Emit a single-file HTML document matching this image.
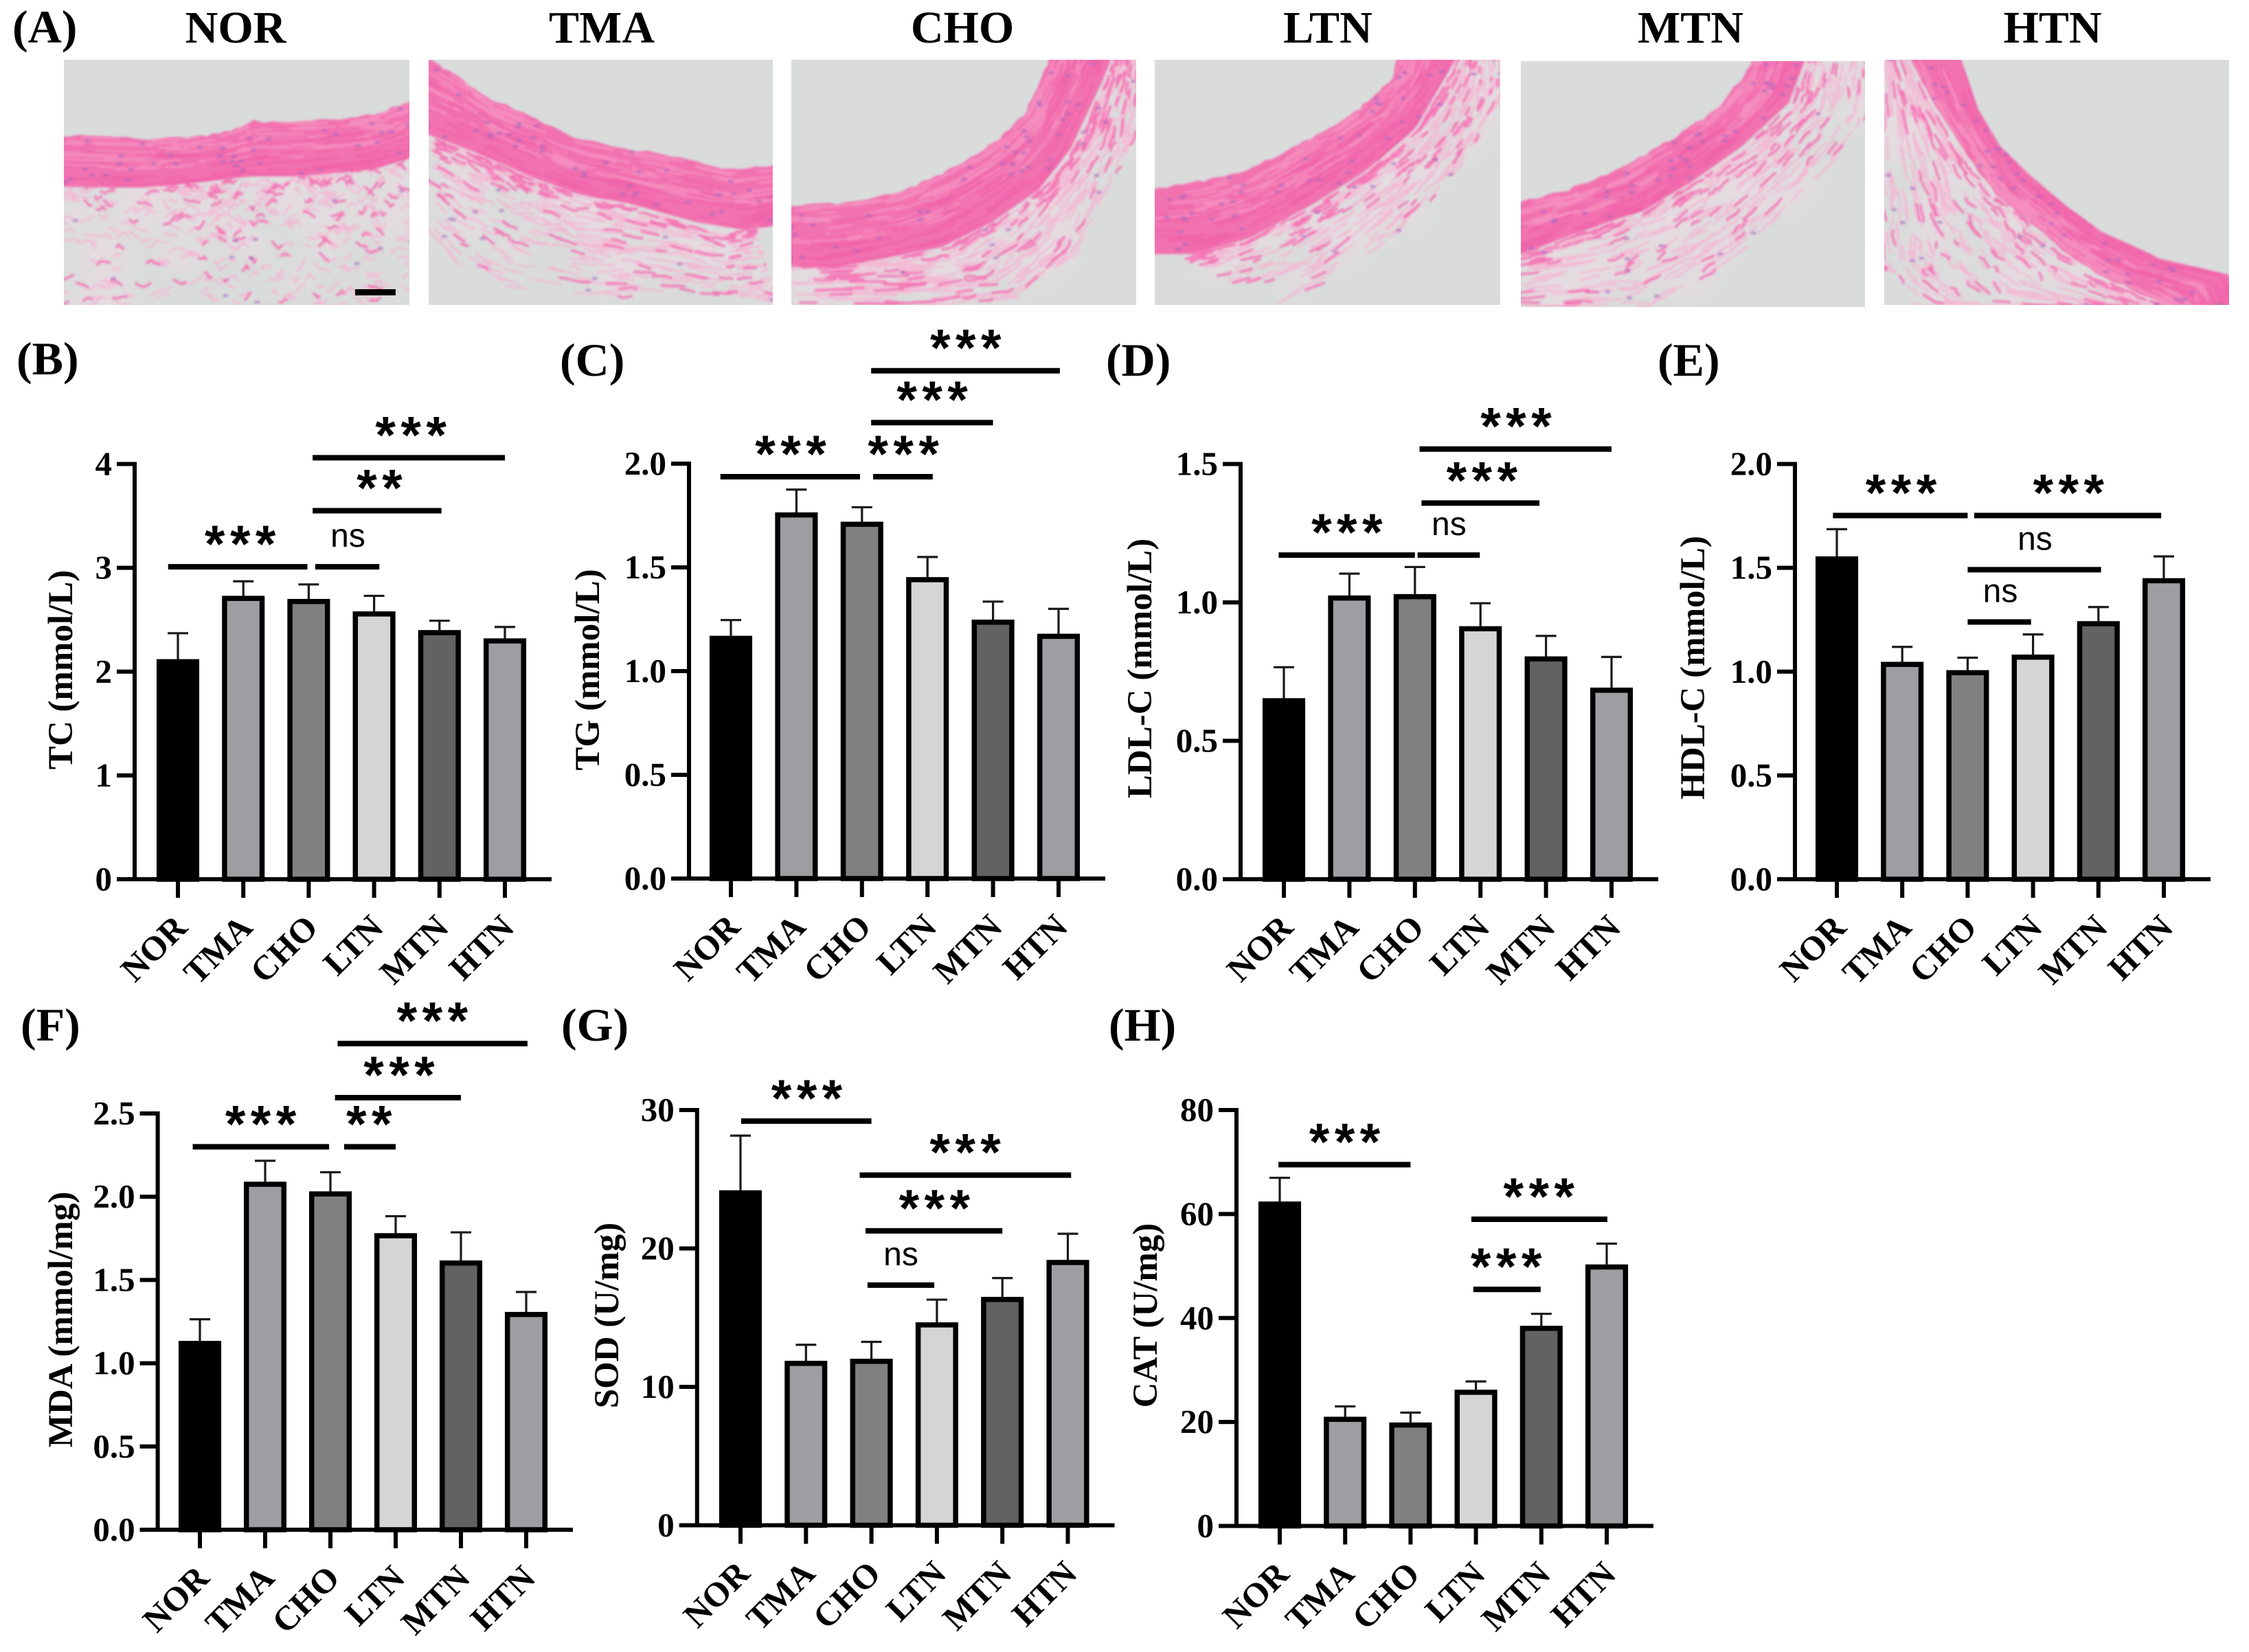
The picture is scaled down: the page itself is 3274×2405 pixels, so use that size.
<!DOCTYPE html>
<html lang="en">
<head>
<meta charset="utf-8">
<title>Aortic histology and serum biochemical markers</title>
<style>
html,body{margin:0;padding:0;background:#fff;width:3274px;height:2405px;overflow:hidden}
svg{display:block}
text{font-family:"Liberation Serif",serif;font-weight:bold;fill:#000}
</style>
</head>
<body>
<svg id="fig" xmlns="http://www.w3.org/2000/svg" width="3274" height="2405" viewBox="0 0 3274 2405">
  <defs>
    <filter id="soft" x="-5%" y="-5%" width="110%" height="110%"><feGaussianBlur stdDeviation="1.7"/></filter>
    <filter id="haze" x="-20%" y="-20%" width="140%" height="140%"><feGaussianBlur stdDeviation="16"/></filter>
  </defs>
  <rect x="0" y="0" width="3274" height="2405" fill="#ffffff"/>
  <g id="histo"></g>
  <g id="charts"></g>
</svg>
<script>
// ---------- chart data ----------
const categories = ['NOR','TMA','CHO','LTN','MTN','HTN'];
const barFills = ['#000000','#9e9da2','#808080','#d5d5d5','#626262','#9e9da2'];

const tcTicks = [0,1,2,3,4];
const tcValues = [2.12,2.73,2.70,2.58,2.40,2.32];
const tcErrors = [0.25,0.14,0.14,0.15,0.09,0.11];
const tcSigLabels = ['***','**','***','ns'];
const tcSigFrom = [2.06,2.06,-0.15,2.10];
const tcSigTo = [5.00,4.03,1.98,3.08];
const tcSigLevel = [4.06,3.55,3.01,3.01];
const tcSigLabelAt = [3.57,3.09,0.96,2.60];

const tgTicks = [0,0.5,1,1.5,2];
const tgValues = [1.17,1.765,1.72,1.453,1.248,1.18];
const tgErrors = [0.076,0.11,0.07,0.097,0.087,0.12];
const tgSigLabels = ['***','***','***','***'];
const tgSigFrom = [2.14,2.14,-0.16,2.17];
const tgSigTo = [5.02,4.00,1.97,3.08];
const tgSigLevel = [2.448,2.198,1.937,1.937];
const tgSigLabelAt = [3.59,3.08,0.92,2.64];

const ldlTicks = [0,0.5,1,1.5];
const ldlValues = [0.654,1.025,1.03,0.914,0.805,0.692];
const ldlErrors = [0.112,0.079,0.098,0.083,0.074,0.111];
const ldlSigLabels = ['***','***','***','ns'];
const ldlSigFrom = [2.07,2.10,-0.08,2.04];
const ldlSigTo = [5.00,3.90,2.00,2.99];
const ldlSigLevel = [1.554,1.359,1.171,1.171];
const ldlSigLabelAt = [3.55,3.03,0.97,2.52];

const hdlTicks = [0,0.5,1,1.5,2];
const hdlValues = [1.555,1.047,1.007,1.082,1.243,1.45];
const hdlErrors = [0.131,0.072,0.06,0.097,0.068,0.105];
const hdlSigLabels = ['***','***','ns','ns'];
const hdlSigFrom = [-0.06,2.10,2.00,2.00];
const hdlSigTo = [2.00,4.96,4.04,2.97];
const hdlSigLevel = [1.752,1.752,1.491,1.239];
const hdlSigLabelAt = [0.99,3.55,3.03,2.50];

const mdaTicks = [0,0.5,1,1.5,2,2.5];
const mdaValues = [1.134,2.09,2.032,1.781,1.617,1.308];
const mdaErrors = [0.13,0.126,0.115,0.102,0.169,0.12];
const mdaSigLabels = ['***','***','***','**'];
const mdaSigFrom = [2.11,2.07,-0.11,2.21];
const mdaSigTo = [5.02,4.00,1.98,3.00];
const mdaSigLevel = [2.92,2.595,2.30,2.30];
const mdaSigLabelAt = [3.57,3.06,0.94,2.60];

const sodTicks = [0,10,20,30];
const sodValues = [24.2,11.88,12.03,14.66,16.5,19.17];
const sodErrors = [3.95,1.16,1.22,1.64,1.36,1.89];
const sodSigLabels = ['***','***','***','ns'];
const sodSigFrom = [0.01,1.82,1.91,1.94];
const sodSigTo = [2.00,5.05,4.00,2.96];
const sodSigLevel = [29.2,25.3,21.27,17.35];
const sodSigLabelAt = [1.02,3.44,2.97,2.45];

const catTicks = [0,20,40,60,80];
const catValues = [62.4,21,19.9,26.2,38.5,50.3];
const catErrors = [4.56,2,1.9,1.6,2.3,4];
const catSigLabels = ['***','***','***'];
const catSigFrom = [-0.02,2.93,2.96];
const catSigTo = [2.00,5.01,3.99];
const catSigLevel = [69.5,59,45.5];
const catSigLabelAt = [1.00,3.97,3.47];

const headerLabels = ['NOR','TMA','CHO','LTN','MTN','HTN'];

// ---------- helpers ----------
const NS = 'http://www.w3.org/2000/svg';
function el(tag, attrs, parent, txt){
  const e = document.createElementNS(NS, tag);
  for (const k in attrs) e.setAttribute(k, attrs[k]);
  if (txt !== undefined) e.textContent = txt;
  parent.appendChild(e);
  return e;
}
const chartRoot = document.getElementById('charts');
const histoRoot = document.getElementById('histo');

function drawPanel(p){
  const g = el('g', {}, chartRoot);
  
  

  const yScale = v => p.y0 - (v / p.max) * (p.y0 - p.yTop);
  const xScale = i => p.firstX + i * p.step;

  const letter = el('text', {x:p.letterX, y:p.letterY - 5, 'font-size':68}, g, '(' + p.letter + ')');
  
  

  const title = el('text', {transform:'translate(' + (p.titleX + 12) + ',' + p.titleY + ') rotate(-90)', 'text-anchor':'middle', 'font-size':51}, g, p.title);
  
  

  // bars and error bars
  p.values.forEach((v, i) => {
    const cx = xScale(i), top = yScale(v), errTop = yScale(v + p.errors[i]);
    const stem = el('line', {x1:cx, x2:cx, y1:top, y2:errTop, stroke:'#1a1a1a', 'stroke-width':3.2}, g);
    
    
    const cap = el('line', {x1:cx - 15, x2:cx + 15, y1:errTop, y2:errTop, stroke:'#1a1a1a', 'stroke-width':3.2}, g);
    
    
    const bar = el('rect', {x:cx - 27.3, y:top + 3.7, width:54.6, height:p.y0 - top - 3.7, fill:barFills[i], stroke:'#000', 'stroke-width':7.5}, g);
    
    
  });

  // axes
  const yAxis = el('line', {x1:p.axisX, x2:p.axisX, y1:p.yTop - 3, y2:p.y0 + 3, stroke:'#000', 'stroke-width':6}, g);
  
  
  const xAxis = el('line', {x1:p.axisX - 26, x2:xScale(5) + 68, y1:p.y0, y2:p.y0, stroke:'#000', 'stroke-width':6}, g);
  
  

  p.ticks.forEach(t => {
    const y = yScale(t);
    const tick = el('line', {x1:p.axisX - 26, x2:p.axisX, y1:y, y2:y, stroke:'#000', 'stroke-width':6}, g);
    
    
    const label = el('text', {x:p.axisX - 33, y:y + 16, 'text-anchor':'end', 'font-size':49}, g, p.decimals ? t.toFixed(1) : String(t));
    
    
  });

  categories.forEach((c, i) => {
    const x = xScale(i);
    const tick = el('line', {x1:x, x2:x, y1:p.y0, y2:p.y0 + 27, stroke:'#000', 'stroke-width':6}, g);
    
    
    const label = el('text', {transform:'translate(' + (x + 16) + ',' + (p.y0 + 73) + ') rotate(-45)', 'text-anchor':'end', 'font-size':50}, g, c);
    
    
  });

  // significance brackets
  p.sigLabels.forEach((s, i) => {
    const y = yScale(p.sigLevel[i]);
    const line = el('line', {x1:xScale(p.sigFrom[i]), x2:xScale(p.sigTo[i]), y1:y, y2:y, stroke:'#000', 'stroke-width':8}, g);
    
    
    let mark;
    if (s === 'ns') {
      mark = el('text', {x:xScale(p.sigLabelAt[i]), y:y - 29, 'text-anchor':'middle', 'font-size':48, style:'font-family:"Liberation Sans",sans-serif;font-weight:normal'}, g, s);
    } else {
      mark = el('text', {x:xScale(p.sigLabelAt[i]) + 3, y:y - 7, 'text-anchor':'middle', 'font-size':76, 'letter-spacing':7.4, style:'font-family:"Liberation Sans",sans-serif;font-weight:bold'}, g, s);
    }
    
    
  });
}

drawPanel({key:'tc', letter:'B', letterX:24, letterY:550, title:'TC (mmol/L)', titleX:93, titleY:975, axisX:196, yTop:675.5, y0:1280, firstX:259, step:95.2, max:4, decimals:false, ticks:tcTicks, values:tcValues, errors:tcErrors, sigLabels:tcSigLabels, sigFrom:tcSigFrom, sigTo:tcSigTo, sigLevel:tcSigLevel, sigLabelAt:tcSigLabelAt});
drawPanel({key:'tg', letter:'C', letterX:815, letterY:552, title:'TG (mmol/L)', titleX:860, titleY:975, axisX:1003, yTop:675, y0:1279, firstX:1064, step:95.4, max:2, decimals:true, ticks:tgTicks, values:tgValues, errors:tgErrors, sigLabels:tgSigLabels, sigFrom:tgSigFrom, sigTo:tgSigTo, sigLevel:tgSigLevel, sigLabelAt:tgSigLabelAt});
drawPanel({key:'ldl', letter:'D', letterX:1610, letterY:552, title:'LDL-C (mmol/L)', titleX:1664, titleY:973, axisX:1806, yTop:675.5, y0:1280, firstX:1869, step:95.4, max:1.5, decimals:true, ticks:ldlTicks, values:ldlValues, errors:ldlErrors, sigLabels:ldlSigLabels, sigFrom:ldlSigFrom, sigTo:ldlSigTo, sigLevel:ldlSigLevel, sigLabelAt:ldlSigLabelAt});
drawPanel({key:'hdl', letter:'E', letterX:2413, letterY:552, title:'HDL-C (mmol/L)', titleX:2469, titleY:972, axisX:2613, yTop:675.5, y0:1280, firstX:2674, step:95.2, max:2, decimals:true, ticks:hdlTicks, values:hdlValues, errors:hdlErrors, sigLabels:hdlSigLabels, sigFrom:hdlSigFrom, sigTo:hdlSigTo, sigLevel:hdlSigLevel, sigLabelAt:hdlSigLabelAt});
drawPanel({key:'mda', letter:'F', letterX:30, letterY:1520, title:'MDA (mmol/mg)', titleX:93, titleY:1921, axisX:229.6, yTop:1621, y0:2227, firstX:291, step:95, max:2.5, decimals:true, ticks:mdaTicks, values:mdaValues, errors:mdaErrors, sigLabels:mdaSigLabels, sigFrom:mdaSigFrom, sigTo:mdaSigTo, sigLevel:mdaSigLevel, sigLabelAt:mdaSigLabelAt});
drawPanel({key:'sod', letter:'G', letterX:817, letterY:1520, title:'SOD (U/mg)', titleX:888, titleY:1915, axisX:1014.8, yTop:1616, y0:2220.5, firstX:1078, step:95.3, max:30, decimals:false, ticks:sodTicks, values:sodValues, errors:sodErrors, sigLabels:sodSigLabels, sigFrom:sodSigFrom, sigTo:sodSigTo, sigLevel:sodSigLevel, sigLabelAt:sodSigLabelAt});
drawPanel({key:'cat', letter:'H', letterX:1614, letterY:1520, title:'CAT (U/mg)', titleX:1672, titleY:1915, axisX:1800, yTop:1616, y0:2221.5, firstX:1863, step:95.2, max:80, decimals:false, ticks:catTicks, values:catValues, errors:catErrors, sigLabels:catSigLabels, sigFrom:catSigFrom, sigTo:catSigTo, sigLevel:catSigLevel, sigLabelAt:catSigLabelAt});

// ---------- panel A: stained tissue illustrations (decorative texture, not chart data) ----------
const panelALabel = el('text', {x:18, y:62, 'font-size':68}, histoRoot, '(A)');



const headerCenters = [343, 876, 1401, 1933, 2461, 2988];
headerLabels.forEach((h, i) => {
  const t = el('text', {x:headerCenters[i], y:62, 'text-anchor':'middle', 'font-size':66}, histoRoot, h);
  
  
});

let seed = 12345;
function rnd(){ seed = (seed * 16807) % 2147483647; return seed / 2147483647; }
function along(pts, t){
  const f = Math.max(0, Math.min(0.9999, t)) * (pts.length - 1);
  const i = Math.floor(f), r = f - i;
  return [pts[i][0] + (pts[i+1][0] - pts[i][0]) * r, pts[i][1] + (pts[i+1][1] - pts[i][1]) * r];
}
function between(a, b, t, u){
  const p = along(a, t), q = along(b, t);
  return [p[0] + (q[0] - p[0]) * u, p[1] + (q[1] - p[1]) * u];
}

const tissue = [
 {name:'nor', rect:[93,87,503,357], ox:0, oy:0, sx:1.363, sy:3,
  top:[[100,590],[200,597],[300,605],[390,600],[450,575],[500,530],[600,530],[700,515],[760,490],[830,430]],
  bottom:[[100,815],[280,820],[400,795],[500,770],[600,770],[740,740],[830,680]],
  a:[[100,825],[400,805],[600,780],[830,700]], b:[[100,1340],[400,1340],[600,1340],[830,1340]], n:290, len:0.03, wob:0.06, pow:1.7},
 {name:'tma', rect:[624,87,501,357], ox:0, oy:0, sx:1.363, sy:3,
  top:[[840,240],[900,320],[960,420],[1050,500],[1140,600],[1250,650],[1350,690],[1450,740],[1550,720]],
  bottom:[[840,580],[960,680],[1050,770],[1150,850],[1250,890],[1380,970],[1480,1005],[1550,980]],
  a:[[845,590],[960,690],[1050,780],[1150,860],[1300,940],[1430,1030],[1500,1000]], b:[[845,1000],[900,1150],[1000,1250],[1150,1300],[1300,1300],[1450,1320],[1540,1332]], n:360, len:0.05, wob:0.03, pow:1.7},
 {name:'cho', rect:[1152,87,502,357], ox:1150, oy:0, sx:1.493, sy:3,
  top:[[-10,895],[100,890],[240,840],[340,750],[440,630],[510,500],[550,330],[565,250]],
  bottom:[[-10,1160],[90,1170],[200,1130],[330,1080],[440,970],[540,830],[610,650],[680,350],[700,250]],
  a:[[-10,1165],[200,1135],[340,1085],[450,975],[550,830],[620,650],[690,350],[705,250]], b:[[-10,1340],[300,1340],[500,1300],[620,1100],[700,800],[750,600],[760,350],[760,250]], n:460, len:0.04, wob:0.04, pow:1.2},
 {name:'ltn', rect:[1681,87,503,357], ox:1150, oy:0, sx:1.493, sy:3,
  top:[[785,825],[900,790],[1000,740],[1100,640],[1190,540],[1260,440],[1310,340],[1320,250]],
  bottom:[[785,1110],[880,1110],[1000,1040],[1130,900],[1250,750],[1360,560],[1420,350],[1450,250]],
  a:[[850,1125],[1000,1045],[1140,905],[1260,750],[1370,560],[1430,350],[1455,250]], b:[[1050,1340],[1200,1200],[1330,1000],[1440,780],[1500,600],[1550,400],[1550,250]], n:420, len:0.04, wob:0.025, pow:1.4},
 {name:'mtn', rect:[2214,89,501,358], ox:2200, oy:0, sx:1.46, sy:3,
  top:[[10,885],[120,830],[230,740],[340,610],[430,490],[490,350],[515,260]],
  bottom:[[10,1120],[150,1010],[280,920],[380,800],[490,640],[590,450],[625,260]],
  a:[[10,1125],[160,1012],[290,922],[390,802],[500,642],[600,452],[635,260]], b:[[10,1350],[300,1350],[500,1100],[650,800],[760,500],[760,260]], n:330, len:0.045, wob:0.035, pow:1.3},
 {name:'htn', rect:[2743,87,502,357], ox:2200, oy:0, sx:1.46, sy:3,
  top:[[845,250],[890,420],[960,650],[1030,850],[1100,960],[1170,1090],[1260,1210],[1380,1320],[1420,1340]],
  bottom:[[955,250],[990,470],[1040,640],[1100,760],[1180,900],[1260,1020],[1380,1130],[1526,1200],[1535,1340]],
  a:[[840,250],[880,420],[950,650],[1020,850],[1090,960],[1160,1090],[1250,1210],[1370,1320],[1400,1340]], b:[[785,250],[785,420],[785,700],[785,1000],[790,1150],[800,1220],[850,1340],[1000,1340],[1100,1340]], n:340, len:0.05, wob:0.03, pow:1.1}
];

tissue.forEach(m => {
  const toPage = p => [m.ox + p[0] / m.sx, m.oy + p[1] / m.sy];
  const fmt = p => { const q = toPage(p); return q[0].toFixed(1) + ' ' + q[1].toFixed(1); };
  const strand = (a, b, t, u, len, wob, steps) => {
    let d = '', uu = u;
    for (let k = 0; k <= steps; k++) {
      d += (k ? 'L' : 'M') + fmt(between(a, b, t + k * len / steps, uu));
      uu += (rnd() - 0.5) * wob;
    }
    return d;
  };
  const clipId = 'clip-' + m.name;
  const cp = el('clipPath', {id:clipId}, histoRoot);
  el('rect', {x:m.rect[0], y:m.rect[1], width:m.rect[2], height:m.rect[3]}, cp);

  const g = el('g', {'clip-path':'url(#' + clipId + ')'}, histoRoot);
  
  

  const bg = el('rect', {x:m.rect[0], y:m.rect[1], width:m.rect[2], height:m.rect[3], fill:'#d9dcdb'}, g);
  
  

  // adventitia haze
  let hazeD = '';
  for (let i = 0; i < 50; i++) hazeD += strand(m.a, m.b, rnd(), Math.pow(rnd(), m.pow + 0.4), 0.08, 0.02, 2);
  const hz = el('path', {d:hazeD, fill:'none', stroke:'#ecdbe3', 'stroke-width':26, opacity:0.7, filter:'url(#haze)'}, g);
  
  

  // adventitia fibres
  let light = '', strong = '';
  for (let i = 0; i < m.n; i++) light += strand(m.a, m.b, rnd(), Math.pow(rnd(), m.pow), m.len * (0.5 + rnd()), m.wob, 4);
  for (let i = 0; i < m.n * 0.38; i++) strong += strand(m.a, m.b, rnd(), Math.pow(rnd(), m.pow + 0.7), m.len * (0.4 + rnd() * 0.7), m.wob, 3);
  const fl = el('path', {d:light, fill:'none', stroke:'#f6b4d2', 'stroke-width':2.6, 'stroke-linecap':'round', opacity:0.85, filter:'url(#soft)'}, g);
  
  
  const fs = el('path', {d:strong, fill:'none', stroke:'#f66bb0', 'stroke-width':3.4, 'stroke-linecap':'round', opacity:0.85, filter:'url(#soft)'}, g);
  
  

  // vessel wall
  let band = '';
  const S = 48;
  for (let i = 0; i <= S; i++) {
    const p = along(m.top, i / S);
    band += (i ? 'L' : 'M') + fmt([p[0] + (rnd() - 0.5) * 5, p[1] + (rnd() - 0.5) * 14]);
  }
  for (let i = S; i >= 0; i--) band += 'L' + fmt(along(m.bottom, i / S));
  const w = el('path', {d:band + 'Z', fill:'#f272b0', filter:'url(#soft)'}, g);
  
  

  let pale = '', deep = '', nuclei = '';
  for (let i = 0; i < 120; i++) pale += strand(m.top, m.bottom, rnd(), 0.03 + rnd() * 0.6, 0.05 + rnd() * 0.08, 0.012, 3);
  for (let i = 0; i < 100; i++) deep += strand(m.top, m.bottom, rnd(), 0.3 + rnd() * 0.68, 0.05 + rnd() * 0.08, 0.012, 3);
  for (let i = 0; i < 40; i++) {
    const p = toPage(between(m.top, m.bottom, rnd(), 0.05 + rnd() * 0.9));
    nuclei += 'M' + (p[0] - 2).toFixed(1) + ' ' + p[1].toFixed(1) + 'h4';
  }
  for (let i = 0; i < 12; i++) {
    const p = toPage(between(m.a, m.b, rnd(), rnd()));
    nuclei += 'M' + (p[0] - 2).toFixed(1) + ' ' + p[1].toFixed(1) + 'h4';
  }
  const sp = el('path', {d:pale, fill:'none', stroke:'#f79cc6', 'stroke-width':3, opacity:0.65, filter:'url(#soft)'}, g);
  
  
  const sd = el('path', {d:deep, fill:'none', stroke:'#ef5aa5', 'stroke-width':3, opacity:0.55, filter:'url(#soft)'}, g);
  
  
  const nu = el('path', {d:nuclei, fill:'none', stroke:'#a566c0', 'stroke-width':4, 'stroke-linecap':'round', opacity:0.65, filter:'url(#soft)'}, g);
  
  
});

const scaleBar = el('rect', {x:517, y:421, width:59, height:9, fill:'#000'}, histoRoot);


</script>
</body>
</html>
